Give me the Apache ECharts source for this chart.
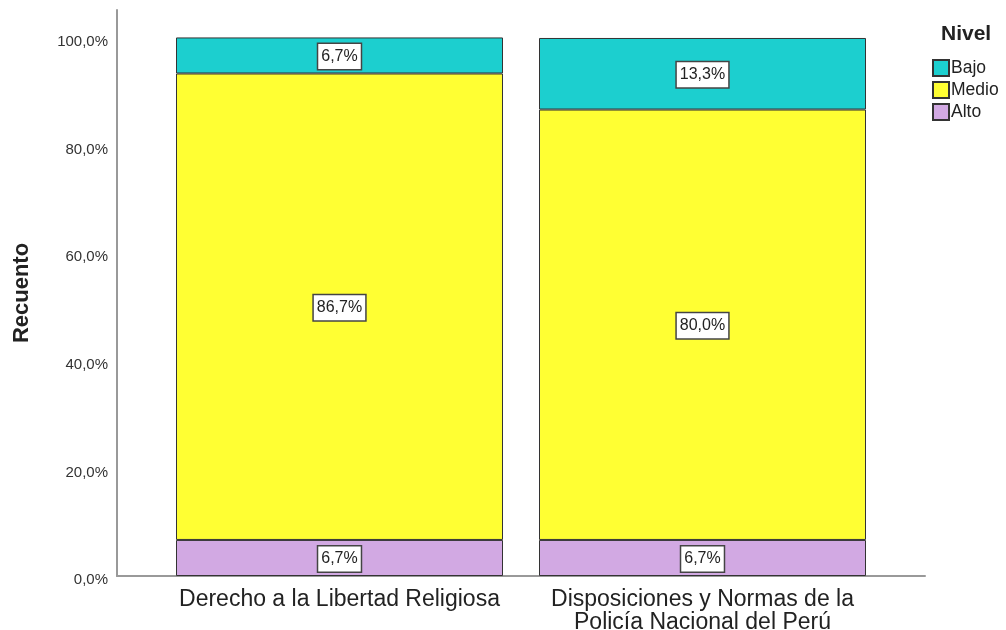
<!DOCTYPE html>
<html><head><meta charset="utf-8">
<script src="https://cdn.jsdelivr.net/npm/echarts@6/dist/echarts.min.js"></script>
<style>html,body{margin:0;padding:0;background:#fff}#c{width:1006px;height:630px}</style>
</head><body><div id="c"></div>
<script>
var categories = ['Derecho a la Libertad Religiosa', 'Disposiciones y Normas de la\nPolicía Nacional del Perú'];
var alto = [6.7, 6.7];
var medio = [86.7, 80.0];
var bajo = [6.7, 13.3];
var yTicks = [0, 20, 40, 60, 80, 100];

var FONT = 'Liberation Sans, Arial, sans-serif';
function pct(v){ return Number(v).toFixed(1).replace('.', ',') + '%'; }
var labelCfg = {
  show: true, position: 'inside', offset: [0, 1], formatter: function(p){ return pct(p.value); },
  backgroundColor: '#fff', borderColor: '#444', borderWidth: 1.5, padding: [5, 3, 4, 3],
  color: '#222', fontSize: 16, fontFamily: FONT
};
var chart = echarts.init(document.getElementById('c'));
var YMAX = 105.2;
chart.setOption({
  animation: false,
  textStyle: { fontFamily: FONT },
  title: { text: 'Nivel', left: 936, top: 19, textStyle: { fontSize: 21, fontWeight: 'bold', color: '#222', fontFamily: FONT } },
  legend: {
    data: ['Bajo', 'Medio', 'Alto'], orient: 'vertical', left: 927, top: 54, icon: 'rect',
    itemWidth: 16, itemHeight: 16, itemGap: 4,
    textStyle: { fontSize: 17.5, color: '#222', fontFamily: FONT, padding: [0, 0, 0, -3] }
  },
  grid: [
    { left: 117, right: 81, top: 10, bottom: 54, outerBoundsMode: 'none' },
    { left: 158, right: 122, top: 10, bottom: 54, outerBoundsMode: 'none' }
  ],
  xAxis: [
    { gridIndex: 0, type: 'category', data: categories, axisLine: { lineStyle: { color: '#999', width: 2 } }, axisTick: { show: false }, axisLabel: { show: false } },
    { gridIndex: 1, type: 'category', data: categories, axisLine: { show: false }, axisTick: { show: false },
      axisLabel: { fontSize: 23, color: '#222', margin: 12, lineHeight: 23, fontFamily: FONT, interval: 0 } }
  ],
  yAxis: [
    { gridIndex: 0, type: 'value', min: 0, max: YMAX, interval: 20, splitLine: { show: false },
      axisLine: { show: true, lineStyle: { color: '#999', width: 2 } }, axisTick: { show: false },
      axisLabel: { showMaxLabel: false, margin: 9,
        formatter: function(v){ return yTicks.indexOf(v) >= 0 ? '{a|' + pct(v) + '}' : ''; },
        rich: { a: { fontSize: 15, color: '#333', fontFamily: FONT, padding: [8, 0, 0, 0] } } },
      name: 'Recuento', nameLocation: 'middle', nameGap: 84, nameRotate: 90,
      nameTextStyle: { fontSize: 22, fontWeight: 'bold', color: '#222', fontFamily: FONT } },
    { gridIndex: 1, type: 'value', min: 0, max: YMAX, show: false, splitLine: { show: false } }
  ],
  series: [
    { name: 'Alto', type: 'bar', stack: 's', xAxisIndex: 1, yAxisIndex: 1, data: alto, barWidth: 327,
      itemStyle: { color: '#d2a9e3', borderColor: '#333', borderWidth: 1 }, label: labelCfg },
    { name: 'Medio', type: 'bar', stack: 's', xAxisIndex: 1, yAxisIndex: 1, data: medio, barWidth: 327,
      itemStyle: { color: '#ffff33', borderColor: '#333', borderWidth: 1 }, label: labelCfg },
    { name: 'Bajo', type: 'bar', stack: 's', xAxisIndex: 1, yAxisIndex: 1, data: bajo, barWidth: 327,
      itemStyle: { color: '#1ccfcf', borderColor: '#333', borderWidth: 1 }, label: labelCfg }
  ]
});
</script></body></html>
